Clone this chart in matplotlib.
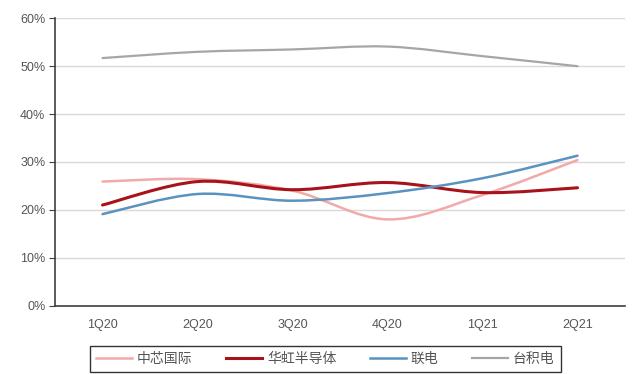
import matplotlib.pyplot as plt
from matplotlib.path import Path
from matplotlib.patches import PathPatch
from matplotlib.lines import Line2D
from matplotlib.ticker import FuncFormatter

plt.rcParams['font.family'] = ['Liberation Sans', 'Noto Sans CJK SC', 'DejaVu Sans']

quarters = ['1Q20', '2Q20', '3Q20', '4Q20', '1Q21', '2Q21']
smic = [25.9, 26.4, 24.0, 18.0, 23.1, 30.4]        # 中芯国际
hua_hong = [21.0, 25.9, 24.2, 25.7, 23.6, 24.6]    # 华虹半导体
umc = [19.1, 23.3, 21.9, 23.5, 26.6, 31.3]         # 联电
tsmc = [51.7, 53.0, 53.5, 54.1, 52.1, 50.0]        # 台积电

names = ['中芯国际', '华虹半导体', '联电', '台积电']
colors = ['#F2A9A9', '#A8121A', '#5A93C0', '#A6A6A6']
widths = [1.8, 2.2, 1.8, 1.6]


def smooth_path(xs, ys):
    # cubic bezier through every point, same idea as Excel's smoothed line
    pts = list(zip(xs, ys))
    verts = [pts[0]]
    codes = [Path.MOVETO]
    n = len(pts)
    for i in range(n - 1):
        p0 = pts[i - 1] if i > 0 else pts[i]
        p1 = pts[i]
        p2 = pts[i + 1]
        p3 = pts[i + 2] if i + 2 < n else pts[i + 1]
        c1 = (p1[0] + (p2[0] - p0[0]) / 6, p1[1] + (p2[1] - p0[1]) / 6)
        c2 = (p2[0] - (p3[0] - p1[0]) / 6, p2[1] - (p3[1] - p1[1]) / 6)
        verts += [c1, c2, p2]
        codes += [Path.CURVE4] * 3
    return Path(verts, codes)


fig = plt.figure(figsize=(6.34, 3.74), dpi=100)
ax = fig.add_axes([0.0868, 0.183, 0.899, 0.768])

x = list(range(len(quarters)))
for series, c, lw in zip([smic, hua_hong, umc, tsmc], colors, widths):
    ax.add_patch(PathPatch(smooth_path(x, series), fill=False, edgecolor=c, lw=lw,
                           capstyle='round', zorder=3))

ax.set_xlim(-0.5, 5.5)
ax.set_ylim(0, 60)
ax.set_yticks(range(0, 61, 10))
ax.yaxis.set_major_formatter(FuncFormatter(lambda v, p: f'{v:.0f}%'))
ax.set_xticks(x)
ax.set_xticklabels(quarters)
ax.grid(axis='y', color='#D9D9D9', lw=1)
ax.set_axisbelow(True)

for s in ['top', 'right']:
    ax.spines[s].set_visible(False)
ax.spines['left'].set_color('#404040')
ax.spines['bottom'].set_color('#404040')
ax.spines['left'].set_linewidth(1.2)
ax.spines['bottom'].set_linewidth(1.2)
ax.tick_params(axis='y', length=4, color='#404040', labelsize=9, labelcolor='#555555', pad=3)
ax.tick_params(axis='x', length=0, labelsize=9, labelcolor='#555555', pad=10)

handles = [Line2D([], [], color=c, lw=lw) for c, lw in zip(colors, widths)]
leg = fig.legend(handles, names, loc='center', bbox_to_anchor=(0.513, 0.040), ncol=4,
                 frameon=True, fancybox=False, edgecolor='black',
                 handlelength=2.6, handletextpad=0.35, columnspacing=2.4,
                 borderpad=0.45, borderaxespad=0, prop={'family': ['Noto Sans CJK SC'], 'size': 10})
leg.get_frame().set_linewidth(1.0)
for t in leg.get_texts():
    t.set_color('#555555')

fig.savefig('out.png', dpi=100)
